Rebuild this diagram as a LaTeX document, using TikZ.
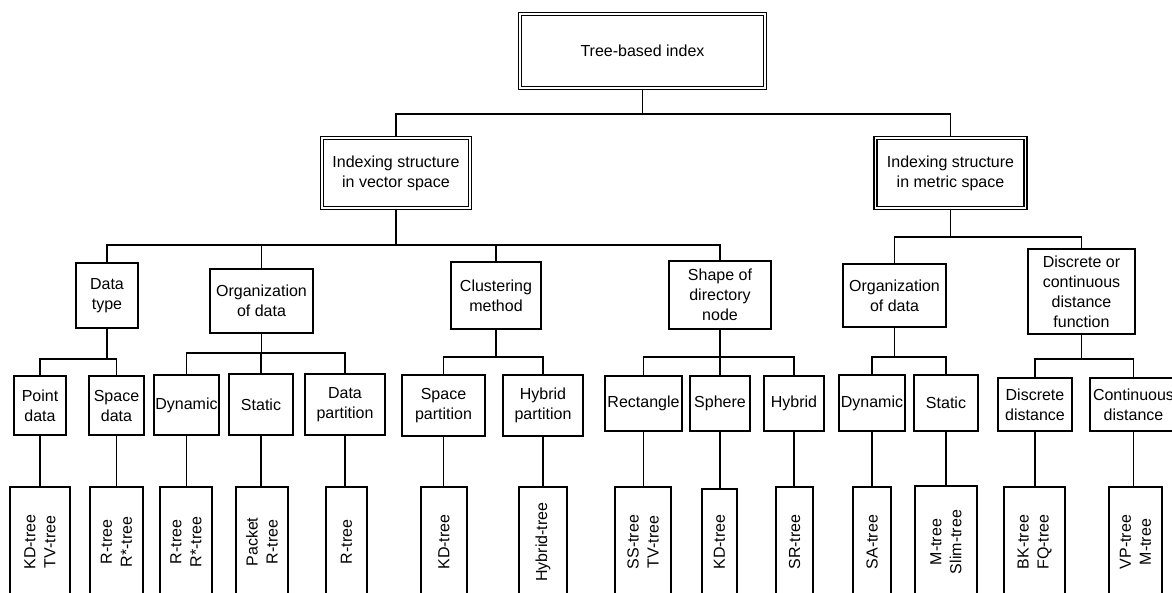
\documentclass[tikz,border=0pt]{standalone}
\usepackage{fontspec}
\setmainfont{Liberation Sans}

\begin{document}
\begin{tikzpicture}[
    x=0.75pt, y=-0.75pt,
    font=\fontsize{12pt}{15pt}\selectfont,
    line width=1.4pt,
    sz/.style 2 args={minimum width=#1*0.75pt, minimum height=#2*0.75pt},
    box/.style={draw, align=center, inner sep=1pt},
    topbox/.style={box, double, line width=1pt, double distance=1.1pt},
    leaf/.style={draw, inner sep=0pt},
    leaftext/.style={rotate=90, align=center, inner sep=1pt},
]
    \useasboundingbox (0,0) rectangle (1172,593);
    \clip (0,0) rectangle (1172,593);

    % top levels
    \node[topbox, sz={245}{74}] (root) at (642.5,51) {Tree-based index};
    \node[topbox, sz={148}{70}] (vec) at (396,173) {Indexing structure\\in vector space};
    \node[topbox, sz={150}{70}] (met) at (950.5,173) {Indexing structure\\in metric space};

    % criteria
    \node[box, sz={62}{65}] (dtype) at (107,295.5) {Data\\type};
    \node[box, sz={103}{64}] (org) at (261.5,301) {Organization\\of data};
    \node[box, sz={90}{67}] (clus) at (496,295.5) {Clustering\\method};
    \node[box, sz={102}{68}] (shape) at (720,295) {Shape of\\directory\\node};
    \node[box, sz={103}{63}] (morg) at (894.5,295.5) {Organization\\of data};
    \node[box, sz={107}{85}] (dist) at (1081.5,291.5) {Discrete or\\continuous\\distance\\function};

    % sub-criteria
    \node[box, sz={52}{59}] (point) at (40,405.5) {Point\\data};
    \node[box, sz={55}{59}] (space) at (116.5,405.5) {Space\\data};
    \node[box, sz={65}{60}] (dyn) at (186.5,405) {Dynamic};
    \node[box, sz={64}{61}] (stat) at (261,404.5) {Static};
    \node[box, sz={80}{61}] (dpart) at (345,404.5) {Data\\partition};
    \node[box, sz={83}{61}] (spart) at (443.5,405.5) {Space\\partition};
    \node[box, sz={80}{61}] (hpart) at (543,405.5) {Hybrid\\partition};
    \node[box, sz={77}{55}] (rect) at (643.5,403.5) {Rectangle};
    \node[box, sz={60}{55}] (sphere) at (720,403.5) {Sphere};
    \node[box, sz={60}{55}] (hyb) at (794,403.5) {Hybrid};
    \node[box, sz={66}{56}] (mdyn) at (872,403) {Dynamic};
    \node[box, sz={64}{56}] (mstat) at (946,403) {Static};
    \node[box, sz={74}{53}] (disc) at (1035,404.5) {Discrete\\distance};
    \node[box, sz={87}{53}] (cont) at (1133.5,404.5) {Continuous\\distance};

    % trees
    \node[leaf, sz={60}{113}] (l1) at (40,543.5) {};
    \node[leaf, sz={53}{113}] (l2) at (116.5,543.5) {};
    \node[leaf, sz={52}{113}] (l3) at (186,543.5) {};
    \node[leaf, sz={52}{113}] (l4) at (262,543.5) {};
    \node[leaf, sz={41}{113}] (l5) at (346.5,543.5) {};
    \node[leaf, sz={46}{113}] (l6) at (444,543.5) {};
    \node[leaf, sz={48}{113}] (l7) at (543,543.5) {};
    \node[leaf, sz={56}{113}] (l8) at (643,543.5) {};
    \node[leaf, sz={35}{111}] (l9) at (719.5,544.5) {};
    \node[leaf, sz={37}{113}] (l10) at (794.5,543.5) {};
    \node[leaf, sz={38}{113}] (l11) at (872,543.5) {};
    \node[leaf, sz={62}{114}] (l12) at (946,543) {};
    \node[leaf, sz={61}{113}] (l13) at (1034.5,543.5) {};
    \node[leaf, sz={53}{113}] (l14) at (1135.5,543.5) {};

    \node[leaftext] (t1) at (40,542) {KD-tree\\TV-tree};
    \node[leaftext] (t2) at (116.5,542) {R-tree\\R*-tree};
    \node[leaftext] (t3) at (186,542) {R-tree\\R*-tree};
    \node[leaftext] (t4) at (262,542) {Packet\\R-tree};
    \node[leaftext] (t5) at (346.5,542) {R-tree};
    \node[leaftext] (t6) at (444,542) {KD-tree};
    \node[leaftext] (t7) at (543,542) {Hybrid-tree};
    \node[leaftext] (t8) at (643,542) {SS-tree\\TV-tree};
    \node[leaftext] (t9) at (719.5,542) {KD-tree};
    \node[leaftext] (t10) at (794.5,542) {SR-tree};
    \node[leaftext] (t11) at (872,542) {SA-tree};
    \node[leaftext] (t12) at (946,542) {M-tree\\Slim-tree};
    \node[leaftext] (t13) at (1034.5,542) {BK-tree\\FQ-tree};
    \node[leaftext] (t14) at (1135.5,542) {VP-tree\\M-tree};

    % connectors
    \coordinate (j0) at (642.5,114);
    \draw (root.south) -- (j0);
    \draw (vec.north) |- (j0) -| (met.north);

    \coordinate (jv) at (396,245);
    \draw (vec.south) -- (jv);
    \draw (dtype.north) |- (jv) -| (shape.north);
    \draw (org.north) -- (org.north |- jv);
    \draw (clus.north) -- (clus.north |- jv);

    \coordinate (jm) at (950.5,237);
    \draw (met.south) -- (jm);
    \draw (morg.north) |- (jm) -| (dist.north);

    \coordinate (j1) at (107,359);
    \draw (dtype.south) -- (j1);
    \draw (point.north) |- (j1) -| (space.north);

    \coordinate (j2) at (261.5,353);
    \draw (org.south) -- (j2);
    \draw (dyn.north) |- (j2) -| (dpart.north);
    \draw (stat.north) -- (stat.north |- j2);

    \coordinate (j3) at (496,357);
    \draw (clus.south) -- (j3);
    \draw (spart.north) |- (j3) -| (hpart.north);

    \coordinate (j4) at (720,357);
    \draw (shape.south) -- (j4);
    \draw (rect.north) |- (j4) -| (hyb.north);
    \draw (sphere.north) -- (sphere.north |- j4);

    \coordinate (j5) at (894.5,357);
    \draw (morg.south) -- (j5);
    \draw (mdyn.north) |- (j5) -| (mstat.north);

    \coordinate (j6) at (1081.5,359);
    \draw (dist.south) -- (j6);
    \draw (disc.north) |- (j6) -| (cont.north);

    \foreach \p/\l in {point/l1, space/l2, dyn/l3, stat/l4, dpart/l5, spart/l6,
        hpart/l7, rect/l8, sphere/l9, hyb/l10, mdyn/l11, mstat/l12, disc/l13, cont/l14}
        \draw (\p.south) -- (\p.south |- \l.north);
\end{tikzpicture}
\end{document}
